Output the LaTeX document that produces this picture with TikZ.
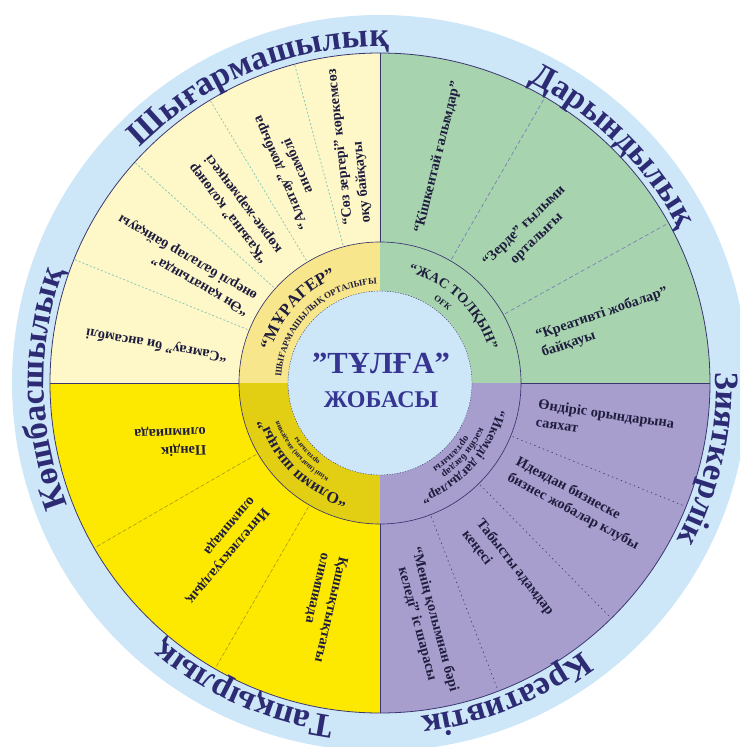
\documentclass[tikz,border=0pt]{standalone}
\usepackage{fontspec}
\setmainfont{Liberation Serif}
\usetikzlibrary{decorations.text}
\definecolor{ringblue}{HTML}{CDE7F9}
\definecolor{creamq}{HTML}{FEF8C8}
\definecolor{paleyel}{HTML}{F7E68C}
\definecolor{greenq}{HTML}{A7D4AF}
\definecolor{purpleq}{HTML}{A79ECE}
\definecolor{yellowq}{HTML}{FDE800}
\definecolor{dkyel}{HTML}{E2CE12}
\definecolor{navy}{HTML}{2D2B73}
\definecolor{ctext}{HTML}{363592}
\definecolor{qink}{HTML}{1F1D3D}
\definecolor{outl}{HTML}{3A3670}
\definecolor{tealdiv}{HTML}{8CC9B8}
\definecolor{greendiv}{HTML}{7A7AB8}
\definecolor{purpdiv}{HTML}{3F3C6E}
\definecolor{yeldiv}{HTML}{9C8F20}
\newcommand\qf{\fontsize{10.8}{13.5}\selectfont\bfseries}
\newcommand\outerf{\fontsize{25.5}{27}\selectfont\bfseries}
\newcommand\ringbig{\fontsize{12.75}{14}\selectfont\bfseries}
\newcommand\ringmid{\fontsize{10.5}{12}\selectfont\bfseries}
\newcommand\ringsmall{\fontsize{6.6}{7}\selectfont\bfseries}
\begin{document}
\begin{tikzpicture}[x=0.75pt,y=0.75pt,
  qtext/.style={font=\qf, text=qink, inner sep=0pt},
  arctext/.style={decorate, decoration={text along path, text align=center, text color=#1}},
  cdiv/.style={tealdiv, line width=0.6pt, dash pattern=on 1.5pt off 1.5pt},
  gdiv/.style={greendiv, line width=0.5pt, dash pattern=on 3pt off 2pt},
  pdiv/.style={purpdiv, line width=0.5pt, dash pattern=on 1pt off 2.5pt},
  ydiv/.style={yeldiv, line width=0.4pt, dash pattern=on 3pt off 1.5pt},
  bline/.style={outl, line width=0.6pt}
]
\useasboundingbox (-380,-364) rectangle (360,383);
\begin{scope}
\clip (-380,-364) rectangle (360,383);
\fill[ringblue] (0,0) circle (368);
\end{scope}
% quadrants
\fill[creamq] (0,0) -- (90:330) arc[start angle=90,end angle=180,radius=330] -- cycle;
\fill[greenq] (0,0) -- (0:330) arc[start angle=0,end angle=90,radius=330] -- cycle;
\fill[purpleq] (0,0) -- (-90:330) arc[start angle=-90,end angle=0,radius=330] -- cycle;
\fill[yellowq] (0,0) -- (180:330) arc[start angle=180,end angle=270,radius=330] -- cycle;
% middle ring colours
\fill[paleyel] (0,0) -- (90:141) arc[start angle=90,end angle=180,radius=141] -- cycle;
\fill[dkyel] (0,0) -- (180:141) arc[start angle=180,end angle=270,radius=141] -- cycle;
% dividers
\foreach \a in {158,138,121,105} \draw[cdiv] (\a:143) -- (\a:329);
\foreach \a in {60,29} \draw[gdiv] (\a:143) -- (\a:329);
\foreach \a in {-22,-45.5,-69} \draw[pdiv] (\a:143) -- (\a:329);
\foreach \a in {210,240} \draw[ydiv] (\a:143) -- (\a:329);
% outlines
\draw[bline] (0,0) circle (330);
\draw[bline, line width=0.5pt] (0,0) circle (141);
\draw[bline] (90:141) -- (90:330);
\draw[bline] (270:141) -- (270:330);
\draw[bline] (0:141) -- (0:330);
\draw[bline] (180:141) -- (180:330);
% centre
\fill[ringblue] (0,0) circle (92);
\draw[outl, line width=0.3pt, dash pattern=on 1pt off 1pt] (0,0) circle (92);
\node[font=\fontsize{23}{25}\selectfont\bfseries, text=ctext, inner sep=0pt] (tulga) at (1,20) {"ТҰЛҒА"};
\node[font=\fontsize{18}{20}\selectfont\bfseries, text=ctext, inner sep=0pt] (jobasy) at (1,-17) {ЖОБАСЫ};
% outer labels
\path[arctext=navy, decoration={text={|\outerf|Шығармашылық}}] (172:336) arc[start angle=172,end angle=52,radius=336];
\path[arctext=navy, decoration={text={|\outerf|Дарындылық}}] (105.5:336) arc[start angle=105.5,end angle=-14.5,radius=336];
\path[arctext=navy, decoration={text={|\outerf|Зияткерлік}}] (47:336) arc[start angle=47,end angle=-73,radius=336];
\path[arctext=navy, decoration={text={|\outerf|Креативтік}}] (-8:336) arc[start angle=-8,end angle=-128,radius=336];
\path[arctext=navy, decoration={text={|\outerf|Тапқырлық}}] (306:336) arc[start angle=306,end angle=186,radius=336];
\path[arctext=navy, decoration={text={|\outerf|Көшбасшылық}}] (241:336) arc[start angle=241,end angle=121,radius=336];
% inner ring labels
\path[arctext=qink, decoration={text={|\ringbig|“МҰРАГЕР”}}] (198:114) arc[start angle=198,end angle=78,radius=114];
\path[arctext=qink, decoration={text={|\ringsmall|ШЫҒАРМАШЫЛЫҚ ОРТАЛЫҒЫ}}] (194:99) arc[start angle=194,end angle=74,radius=99];
\path[arctext=qink, decoration={text={|\ringmid|“ЖАС ТОЛҚЫН”}}] (106:114) arc[start angle=106,end angle=-14,radius=114];
\path[arctext=qink, decoration={text={|\ringsmall|ОҒК}}] (82:99) arc[start angle=82,end angle=22,radius=99];
\path[arctext=qink, decoration={text={|\fontsize{10.1}{11}\selectfont\bfseries|“Икемді дағдылар”}}] (18.5:120) arc[start angle=18.5,end angle=-101.5,radius=120];
\path[arctext=qink, decoration={text={|\fontsize{7.5}{8}\selectfont\bfseries|кәсіби бағдар}}] (20:109) arc[start angle=20,end angle=-100,radius=109];
\path[arctext=qink, decoration={text={|\fontsize{7.5}{8}\selectfont\bfseries|орталығы}}] (15:100) arc[start angle=15,end angle=-105,radius=100];
\path[arctext=qink, decoration={text={|\fontsize{12}{13}\selectfont\bfseries|“Олимп шыңы”}}] (286:119) arc[start angle=286,end angle=166,radius=119];
\path[arctext=qink, decoration={text={|\fontsize{5.5}{6}\selectfont\bfseries|кіші (шағын) академия}}] (281:108) arc[start angle=281,end angle=161,radius=108];
\path[arctext=qink, decoration={text={|\fontsize{5.5}{6}\selectfont\bfseries|орталығы}}] (283:99) arc[start angle=283,end angle=163,radius=99];
% cream quadrant texts
\node[qtext, anchor=west, rotate=170] (c1) at (170.4:155) {“Самғау” би ансамблі};
\node[qtext, anchor=west, rotate=150, align=left] (c2) at (148.5:150) {“Ән қанатында”\\өнерлі балалар байқауы};
\node[qtext, anchor=west, rotate=127, align=left] (c3) at (130.4:166) {“Қазына” қолөнер\\көрме-жәрмеңкесі};
\node[qtext, anchor=center, rotate=113, align=center] (c4) at (113.3:232) {“Алатау” домбыра\\ансамблі};
\node[qtext, anchor=west, rotate=96, align=left] (c5) at (98:160) {“Сөз зергері” көркемсөз\\оқу байқауы};
% green quadrant texts
\node[qtext, anchor=west, rotate=76] (g1) at (75.4:155) {“Кішкентай ғалымдар”};
\node[qtext, anchor=center, rotate=44, align=center] (g2) at (45:213) {“Зерде” ғылыми\\орталығы};
\node[qtext, anchor=west, rotate=19, align=left] (g3) at (13.4:163.5) {“Креативті жобалар”\\байқауы};
% purple quadrant texts
\node[qtext, anchor=west, rotate=-8, align=left] (p1) at (-10.8:160) {Өндіріс орындарына\\саяхат};
\node[qtext, anchor=west, rotate=-28, align=left] (p2) at (-33.1:158) {Идеядан бизнеске\\бизнес жобалар клубы};
\node[qtext, anchor=west, rotate=-52, align=left] (p3) at (-57.3:170) {Табысты адамдар\\кеңесі};
\node[qtext, anchor=center, rotate=-75, align=center] (p4) at (-79.1:243) {“Менің қолымнан бәрі\\келеді” іс шарасы};
% yellow quadrant texts
\node[qtext, anchor=west, rotate=182, align=left] (y1) at (198.3:183) {Пәндік\\олимпиада};
\node[qtext, anchor=west, rotate=230, align=left] (y2) at (225.1:171) {Интеллектуалдық\\олимпиада};
\node[qtext, anchor=west, rotate=257, align=left] (y3) at (255:178) {Қашықтықтағы\\олимпиада};
\end{tikzpicture}
\end{document}
